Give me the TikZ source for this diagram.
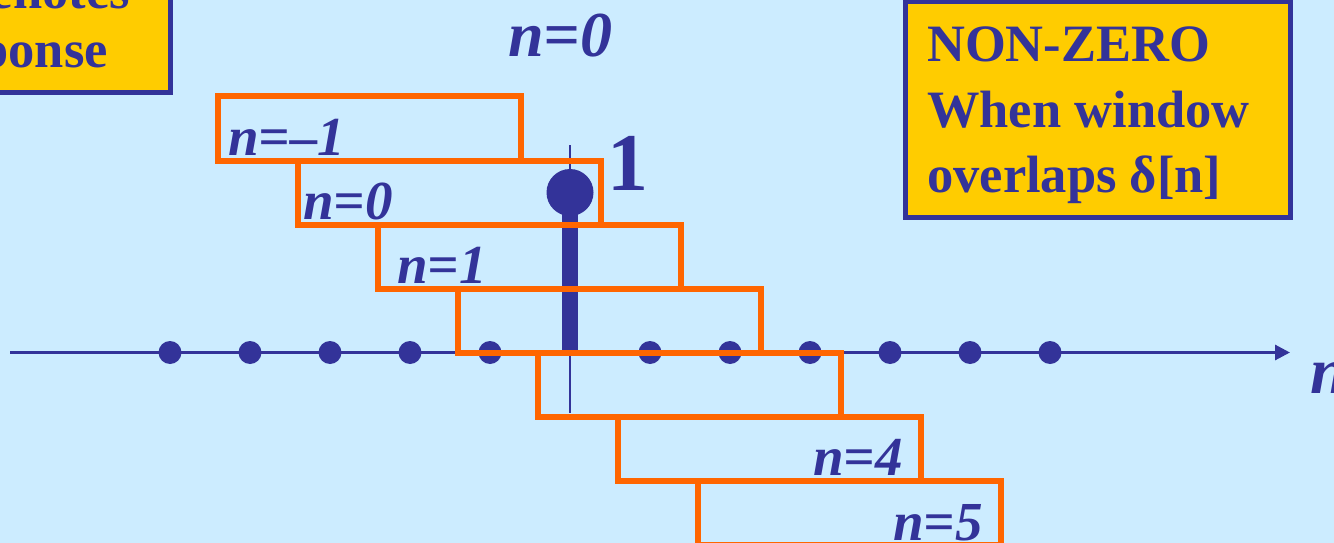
\documentclass[tikz,border=0pt]{standalone}
\usepackage{fontspec}
\setmainfont{Liberation Serif}
\usetikzlibrary{arrows.meta}
\definecolor{bg}{HTML}{CCECFF}
\definecolor{myblue}{HTML}{333399}
\definecolor{myorange}{HTML}{FF6600}
\definecolor{myyellow}{HTML}{FFCC00}
\begin{document}
\begin{tikzpicture}[x=1pt,y=-1pt,
  lbl/.style={font=\fontsize{55}{55}\selectfont\bfseries\itshape, text=myblue, inner sep=0pt, anchor=base west},
  boxtxt/.style={font=\fontsize{52.5}{52.5}\selectfont\bfseries, text=myblue, inner sep=0pt, anchor=base west},
  noteframe/.style={fill=myyellow, draw=myblue, line width=5pt},
  win/.style={draw=myorange, line width=6pt, rectangle, inner sep=0pt, outer sep=0pt, minimum width=303pt, minimum height=64pt, anchor=north west},
  sdot/.style={circle, fill=myblue, inner sep=0pt, minimum size=23pt},
  bdot/.style={circle, fill=myblue, inner sep=0pt, minimum size=47pt}]
\useasboundingbox (0,0) rectangle (1334,543);
\clip (0,0) rectangle (1334,543);
\fill[bg] (0,0) rectangle (1334,543);

% left note box (cut off)
\draw[noteframe] (-30,-30) rectangle (170,93);
\node[boxtxt, anchor=base east] (lt1) at (130,9) {denotes};
\node[boxtxt, anchor=base east] (lt2) at (108,67) {response};

% right note box
\draw[noteframe] (905.5,1.5) rectangle (1290,217.5);
\node[boxtxt] (rt1) at (927,62) {NON-ZERO};
\node[boxtxt] (rt2) at (927,127) {When window};
\node[boxtxt] (rt3) at (927,192) {overlaps δ[n]};

% axis
\coordinate (ax0) at (10,352.5);
\coordinate (ax1) at (1290,352.5);
\draw[myblue, line width=3pt, -{Triangle[length=15pt,width=15pt]}] (ax0) -- (ax1);
\node[lbl, font=\fontsize{66}{66}\selectfont\bfseries\itshape] (nax) at (1310,393) {n};

\foreach \i in {-5,...,-1,1,2,...,6} {
  \node[sdot] (d\i) at ({570+80*\i},352.5) {};
}

% delta stem
\coordinate (thinA) at (570,145);
\coordinate (thinB) at (570,413);
\coordinate (stemB) at (570,352.5);
\draw[myblue, line width=2pt] (thinA) -- (thinB);
\node[bdot] (top) at (570,192.5) {};
\draw[myblue, line width=16pt] (top.center) -- (stemB);
\node[font=\fontsize{82}{82}\selectfont\bfseries, text=myblue, inner sep=0pt, anchor=base west] (one) at (607,190) {1};

% top label
\node[lbl, font=\fontsize{64}{64}\selectfont\bfseries\itshape] (n0top) at (508,57) {n=0};

% windows
\foreach \k in {-1,0,...,5} {
  \node[win] (w\k) at ({298+80*\k},{160.5+64*\k}) {};
}

% window labels
\node[lbl] (lm1) at (228,155) {n=–1};
\node[lbl] (l0) at (303,219) {n=0};
\node[lbl] (l1) at (397,283) {n=1};
\node[lbl] (l4) at (813,475) {n=4};
\node[lbl] (l5) at (893,540) {n=5};
\end{tikzpicture}
\end{document}
